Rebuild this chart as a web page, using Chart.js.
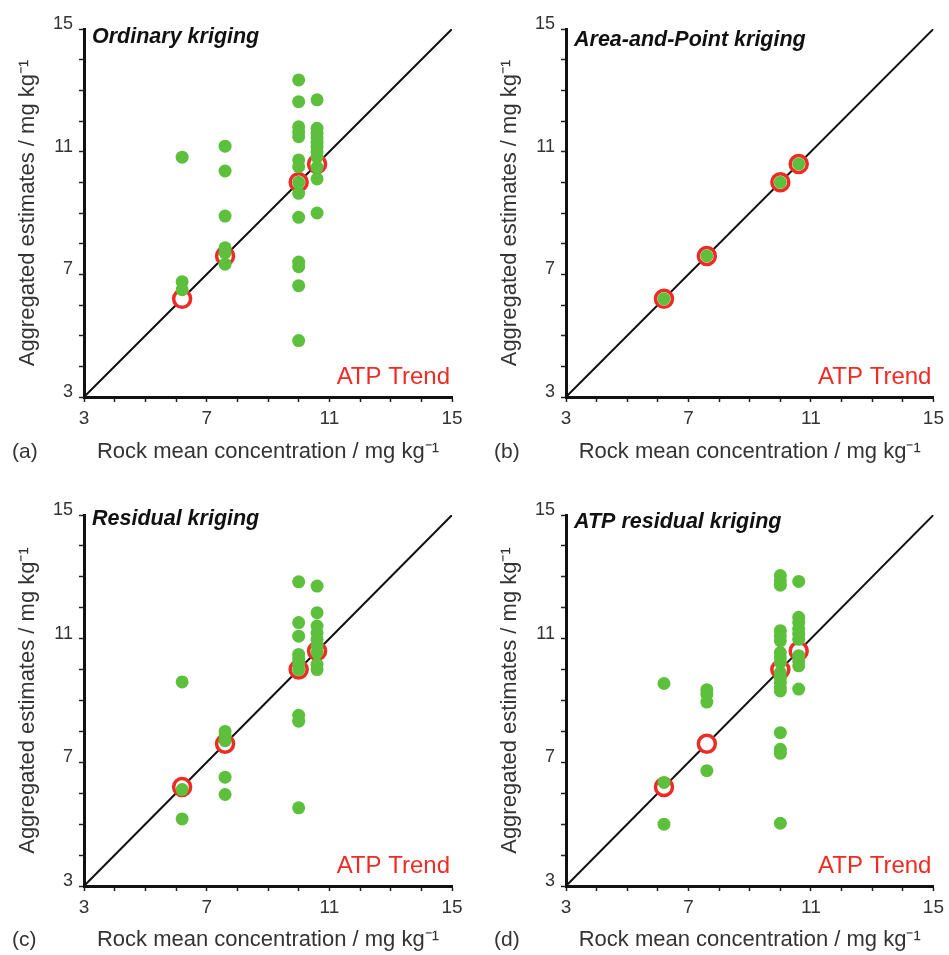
<!DOCTYPE html>
<html><head><meta charset="utf-8">
<script src="https://cdn.jsdelivr.net/npm/chart.js@4/dist/chart.umd.min.js"></script>
<style>
body{margin:0;background:#fff;width:949px;height:955px;position:relative;overflow:hidden}
canvas{position:absolute}
</style>
</head><body>
<canvas id="ca" width="474" height="475" style="left:0;top:0"></canvas>
<canvas id="cb" width="467" height="475" style="left:482px;top:0"></canvas>
<canvas id="cc" width="474" height="475" style="left:0;top:480px"></canvas>
<canvas id="cd" width="467" height="475" style="left:482px;top:480px"></canvas>
<script>
// ---- data ----
const axisRange = [3, 15];
const tickLabels = [3, 7, 11, 15];
const oneToOne = [3, 15];
const trendX = [6.2, 7.6, 10.0, 10.6];
const trendY = [6.2, 7.6, 10.0, 10.6];

const okX = [6.2,6.2,6.2, 7.6,7.6,7.6,7.6,7.6,7.6,
  10.0,10.0,10.0,10.0,10.0,10.0,10.0,10.0,10.0,10.0,10.0,10.0,10.0,10.0,
  10.6,10.6,10.6,10.6,10.6,10.6,10.6,10.6,10.6,10.6,10.6];
const okY = [10.82,6.76,6.5, 11.18,10.37,8.9,7.87,7.7,7.33,
  13.34,12.63,11.81,11.65,11.49,10.73,10.51,10.0,9.64,8.86,7.4,7.25,6.63,4.84,
  12.69,11.76,11.6,11.45,11.3,11.15,11.0,10.83,10.49,10.11,9.0];

const apX = [6.2, 7.6, 10.0, 10.6];
const apY = [6.2, 7.6, 10.0, 10.6];

const rkX = [6.2,6.2,6.2, 7.6,7.6,7.6,7.6,7.6,
  10.0,10.0,10.0,10.0,10.0,10.0,10.0,10.0,10.0,10.0,
  10.6,10.6,10.6,10.6,10.6,10.6,10.6,10.6,10.6];
const rkY = [9.6,6.12,5.17, 8.0,7.85,7.7,6.52,5.96,
  12.84,11.52,11.08,10.49,10.33,10.17,10.0,8.52,8.33,5.53,
  12.7,11.84,11.41,11.19,10.98,10.76,10.55,10.17,10.0];

const arX = [6.2,6.2,6.2, 7.6,7.6,7.6,7.6,
  10.0,10.0,10.0,10.0,10.0,10.0,10.0,10.0,10.0,10.0,10.0,10.0,10.0,10.0,10.0,10.0,10.0,10.0,
  10.6,10.6,10.6,10.6,10.6,10.6,10.6,10.6,10.6,10.6];
const arY = [9.55,6.35,5.0, 9.35,9.2,8.95,6.73,
  13.04,12.87,12.73,11.26,11.09,10.93,10.55,10.39,10.23,9.9,9.74,9.58,9.42,9.31,7.96,7.42,7.29,5.03,
  12.85,11.69,11.52,11.31,11.15,10.98,10.45,10.28,10.12,9.37];

const panelTitles = ['Ordinary kriging', 'Area-and-Point kriging', 'Residual kriging', 'ATP residual kriging'];
const panelLetters = ['(a)', '(b)', '(c)', '(d)'];
const trendLabel = 'ATP Trend';
const xTitle = 'Rock mean concentration / mg kg\u207B\u00B9';
const yTitle = 'Aggregated estimates / mg kg\u207B\u00B9';

// ---- layout / style ----
const FONT = '"Liberation Sans", Arial, Helvetica, sans-serif';
const GREEN = '#5cc03c';
const RED = '#ee2b24';
const TXT = '#333';
const layouts = [
  {id:'ca', gx: okX, gy: okY, padTop:29, padRight:22, xH:78, tpb:10, lx:12, ly:452, tb:14},
  {id:'cb', gx: apX, gy: apY, padTop:29, padRight:14, xH:78, tpb:10, lx:12, ly:452, tb:17},
  {id:'cc', gx: rkX, gy: rkY, padTop:35, padRight:22, xH:69, tpb:2, lx:12, ly:460, tb:10},
  {id:'cd', gx: arX, gy: arY, padTop:35, padRight:14, xH:69, tpb:2, lx:12, ly:460, tb:13}
];

function pts(xs, ys){ return xs.map((x,i)=>({x:x, y:ys[i]})); }

const textPlugin = {
  id: 'panelText',
  afterDraw(chart, args, opts){
    const {ctx, chartArea} = chart;
    ctx.save();
    ctx.fillStyle = '#111';
    ctx.font = 'italic bold 21.5px ' + FONT;
    ctx.textAlign = 'left';
    ctx.textBaseline = 'alphabetic';
    ctx.fillText(opts.title, chartArea.left + 8, chartArea.top + opts.tb);
    ctx.fillStyle = RED;
    ctx.font = '24px ' + FONT;
    ctx.textAlign = 'right';
    ctx.fillText(trendLabel, chartArea.right - 2, chartArea.bottom - 13);
    ctx.fillStyle = TXT;
    ctx.font = '21px ' + FONT;
    ctx.textAlign = 'left';
    ctx.textBaseline = 'middle';
    ctx.fillText(opts.letter, opts.lx, opts.ly);
    ctx.restore();
  }
};

layouts.forEach((L, k) => {
  const axisCommon = {
    type: 'linear', min: axisRange[0], max: axisRange[1],
    grid: {display: true, drawOnChartArea: false, drawTicks: true, tickLength: 5,
           color: '#222', tickColor: '#222', tickWidth: 1.5},
    border: {display: true, color: '#111', width: 3}
  };
  new Chart(document.getElementById(L.id), {
    type: 'scatter',
    data: {
      datasets: [
        {type: 'scatter', data: pts(L.gx, L.gy), order: 1,
         pointRadius: 6.5, pointHoverRadius: 6.5, pointBackgroundColor: GREEN, pointBorderWidth: 0},
        {type: 'scatter', data: pts(trendX, trendY), order: 2,
         pointRadius: 8.5, pointHoverRadius: 8.5, pointBackgroundColor: '#fff',
         pointBorderColor: RED, pointBorderWidth: 3.5},
        {type: 'line', data: pts(oneToOne, oneToOne), order: 3,
         borderColor: '#111', borderWidth: 2, pointRadius: 0, fill: false}
      ]
    },
    options: {
      responsive: false, animation: false,
      layout: {padding: {left: 0, top: L.padTop, right: L.padRight, bottom: 0}},
      plugins: {legend: {display: false}, tooltip: {enabled: false},
                panelText: {title: panelTitles[k], letter: panelLetters[k], lx: L.lx, ly: L.ly, tb: L.tb}},
      scales: {
        x: Object.assign({}, axisCommon, {
          position: 'bottom',
          ticks: {stepSize: 1, autoSkip: false, maxRotation: 0, padding: 5,
                  color: TXT, font: {family: FONT, size: 19},
                  callback: v => tickLabels.includes(v) ? String(v) : ''},
          title: {display: true, text: xTitle, color: TXT, font: {family: FONT, size: 22},
                  padding: {top: 0, bottom: L.tpb}},
          afterFit: s => { s.height = L.xH; }
        }),
        y: Object.assign({}, axisCommon, {
          position: 'left',
          ticks: {stepSize: 1, autoSkip: false, padding: 6, labelOffset: -5,
                  color: TXT, font: {family: FONT, size: 18},
                  callback: v => tickLabels.includes(v) ? String(v) : ''},
          title: {display: true, text: yTitle, color: TXT, font: {family: FONT, size: 22},
                  padding: {top: 15, bottom: 0}},
          afterFit: s => { s.width = 84; }
        })
      }
    },
    plugins: [textPlugin]
  });
});
</script>
</body></html>
